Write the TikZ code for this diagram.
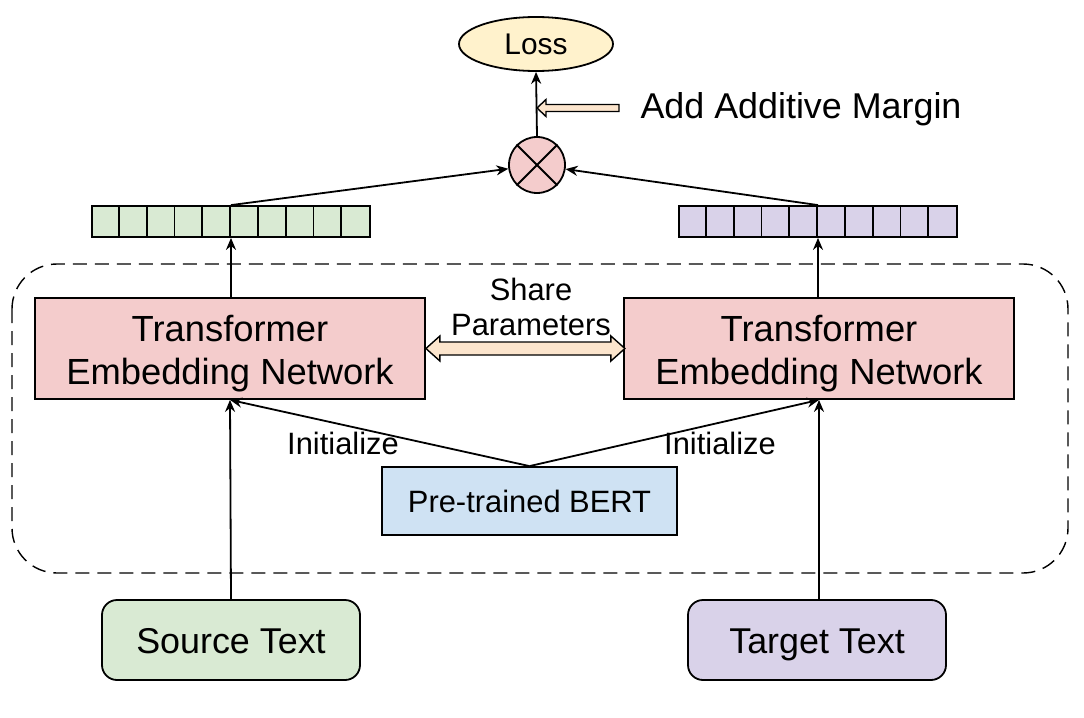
\documentclass[tikz,border=0pt]{standalone}
\usepackage{fontspec}
\setmainfont{Liberation Sans}
\usetikzlibrary{arrows.meta,shapes.geometric,calc}

\definecolor{tfpink}{HTML}{F4CCCC}
\definecolor{srcgreen}{HTML}{D9EAD3}
\definecolor{tgtpurple}{HTML}{D9D2E9}
\definecolor{bertblue}{HTML}{CFE2F3}
\definecolor{lossyellow}{HTML}{FFF2CC}
\definecolor{peach}{HTML}{FCE5CD}

\newcommand{\tfname}{\parbox[t]{380bp}{\centering Transformer\\Embedding Network}}

\tikzset{
    box/.style={draw, line width=1.8bp, inner sep=0pt},
    link/.style={line width=1.8bp, -{Stealth[length=12bp,width=10bp]}},
    fatarrow/.style={draw, line width=1.4bp, fill=peach, line join=miter},
    lbl/.style={font=\fontsize{31}{35}\selectfont}
}

\begin{document}
\begin{tikzpicture}[x=1bp, y=-1bp]
                \useasboundingbox (0,0) rectangle (1084,718);
                % shared encoder frame
                \draw [line width=1.4bp, dash pattern=on 14bp off 8bp, rounded corners=45bp] (12,264) rectangle (1068,573);
                % inputs
                \node [box, fill=srcgreen, rounded corners=15bp, minimum width=258bp, minimum height=80bp, text height=26bp, text depth=0bp, font=\fontsize{36}{40}\selectfont] (src) at (231,640) {Source Text};
                \node [box, fill=tgtpurple, rounded corners=15bp, minimum width=258bp, minimum height=80bp, text height=26bp, text depth=0bp, font=\fontsize{36}{40}\selectfont] (tgt) at (817,640) {Target Text};
                % encoders
                \node [box, fill=tfpink, minimum width=390bp, minimum height=101bp, text height=27bp, text depth=41bp, font=\fontsize{36.5}{43}\selectfont] (tenL) at (230,348.5) {\tfname};
                \node [box, fill=tfpink, minimum width=390bp, minimum height=101bp, text height=27bp, text depth=41bp, font=\fontsize{36.5}{43}\selectfont] (tenR) at (819,348.5) {\tfname};
                \node [box, fill=bertblue, minimum width=295bp, minimum height=68bp, font=\fontsize{31}{34}\selectfont] (bert) at (529.5,501) {Pre-trained BERT};
                % embedding vectors
                \node [box, fill=srcgreen, minimum width=278bp, minimum height=31bp] (vecL) at (231,221.5) {};
                \node [box, fill=tgtpurple, minimum width=278bp, minimum height=31bp] (vecR) at (818,221.5) {};
                \foreach \i in {1,...,9}{
                    \draw [line width=1.7bp] ($(vecL.north west)+(27.8*\i,0)$) -- ($(vecL.south west)+(27.8*\i,0)$);
                    \draw [line width=1.7bp] ($(vecR.north west)+(27.8*\i,0)$) -- ($(vecR.south west)+(27.8*\i,0)$);
                }
                % similarity and loss
                \node [box, circle, fill=tfpink, minimum size=56bp] (mult) at (537,165) {};
                \draw [line width=1.8bp] (mult.north west) -- (mult.south east);
                \draw [line width=1.8bp] (mult.north east) -- (mult.south west);
                \node [box, ellipse, fill=lossyellow, minimum width=154bp, minimum height=54bp, font=\fontsize{30}{34}\selectfont] (loss) at (536,44) {Loss};
                % connectors
                \draw [link] (src.north) -- (tenL.south);
                \draw [link] (tgt.north -| tenR.south) -- (tenR.south);
                \draw [link] (bert.north) -- (tenL.south);
                \draw [link] (bert.north) -- (tenR.south);
                \draw [link] (tenL.north -| vecL.south) -- (vecL.south);
                \draw [link] (tenR.north -| vecR.south) -- (vecR.south);
                \draw [link] (vecL.north) -- (mult);
                \draw [link] (vecR.north) -- (mult);
                \draw [link] (mult.north) -- (loss.south);
                % share parameters
                \draw [fatarrow] (tenL.east) -- ++(14,-12.5) -- ++(0,6) -- ++(171,0) -- ++(0,-6) -- ++(14,12.5) -- ++(-14,12.5) -- ++(0,-6) -- ++(-171,0) -- ++(0,6) -- cycle;
                \node [lbl, align=center, font=\fontsize{31}{35}\selectfont] (share) at (531,307) {Share\\Parameters};
                \node [lbl] (initL) at (343,443) {Initialize};
                \node [lbl] (initR) at (720,443) {Initialize};
                % additive margin
                \coordinate (mgn) at (mult.north |- 0,108);
                \draw [fatarrow] (mgn) -- ++(9,-8.5) -- ++(0,5) -- ++(73,0) -- ++(0,7) -- ++(-73,0) -- ++(0,5) -- cycle;
                \node [anchor=west, font=\fontsize{36}{40}\selectfont] (margin) at (637,109) {Add Additive Margin};
            \end{tikzpicture}
\end{document}
